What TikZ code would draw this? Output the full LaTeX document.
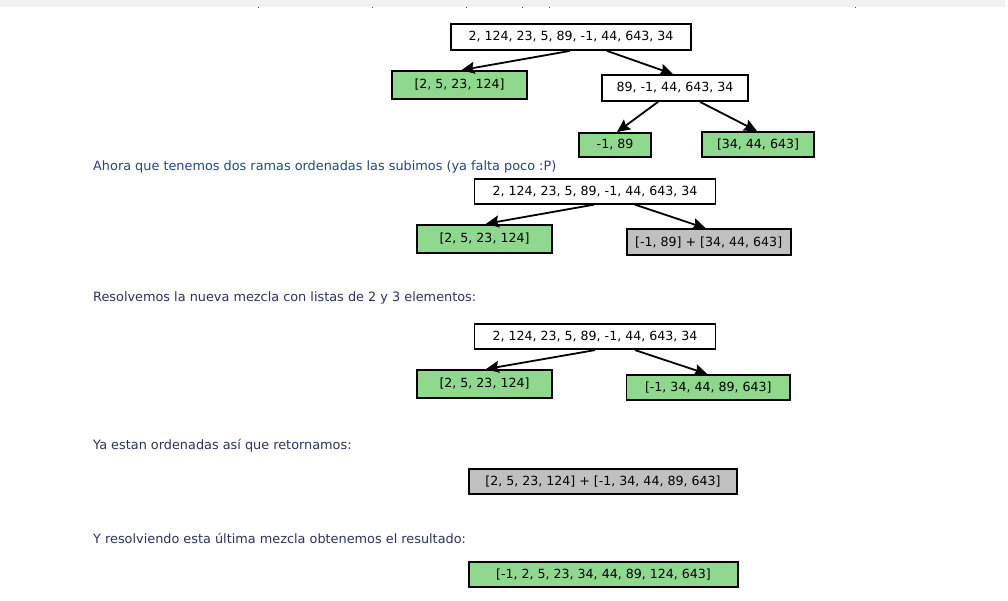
\documentclass[tikz,border=0pt]{standalone}
\usepackage{fontspec}
\setmainfont{DejaVu Sans}
\usetikzlibrary{arrows.meta,calc}
\definecolor{boxgreen}{RGB}{143,217,143}
\definecolor{boxgray}{RGB}{192,192,192}
\definecolor{strip}{RGB}{242,242,242}
\definecolor{txtblue}{RGB}{35,70,135}
\definecolor{txtnavy}{RGB}{45,50,100}
\tikzset{
  box/.style={draw=black, line width=1.8pt, rectangle, inner sep=0pt, align=center,
    font=\fontsize{12.6}{15}\selectfont},
  wbox/.style={box, fill=white},
  gbox/.style={box, fill=boxgreen},
  ybox/.style={box, fill=boxgray},
  arr/.style={line width=1.8pt, -{Stealth[length=13pt,width=12pt,inset=2pt]}},
  para/.style={anchor=west, inner sep=0pt, font=\fontsize{12.85}{15}\selectfont, text=txtnavy},
}
\begin{document}
\begin{tikzpicture}[x=1pt,y=-1pt]
\fill[white] (0,0) rectangle (1008,601);
\useasboundingbox (0,0) rectangle (1008,601);
\fill[strip] (0,0) rectangle (1005,7);
\foreach \tx in {258,372,466,522,549,855}
  \fill[txtblue] (\tx,7) rectangle ++(1.2,1.5);

% tree 1
\node[wbox, minimum width=240pt, minimum height=26pt] (r1) at (571,37) {2, 124, 23, 5, 89, -1, 44, 643, 34};
\node[gbox, minimum width=135pt, minimum height=28pt] (a1) at (459.5,85) {[2, 5, 23, 124]};
\node[wbox, minimum width=146pt, minimum height=26pt] (b1) at (675,88) {89, -1, 44, 643, 34};
\node[gbox, minimum width=72pt, minimum height=24pt] (c1) at (615,145) {-1, 89};
\node[gbox, minimum width=112pt, minimum height=25pt] (d1) at (758,144.5) {[34, 44, 643]};
\draw[arr] ([xshift=-1pt]r1.south) -- ([xshift=2pt]a1.north);
\draw[arr] ([xshift=36pt]r1.south) -- ([xshift=-2pt]b1.north);
\draw[arr] ([xshift=-17pt]b1.south) -- ([xshift=2pt]c1.north);
\draw[arr] ([xshift=25pt]b1.south) -- ([xshift=-1pt]d1.north);

\node[para, text=txtblue] (t1) at (93,167) {Ahora que tenemos dos ramas ordenadas las subimos (ya falta poco :P)};

% tree 2
\node[wbox, minimum width=241pt, minimum height=24.5pt] (r2) at (595,191.5) {2, 124, 23, 5, 89, -1, 44, 643, 34};
\node[gbox, minimum width=134.5pt, minimum height=28pt] (a2) at (484.5,238.7) {[2, 5, 23, 124]};
\node[ybox, minimum width=164pt, minimum height=26pt] (b2) at (708.7,242.2) {[-1, 89] + [34, 44, 643]};
\draw[arr] ([xshift=-1pt]r2.south) -- ([xshift=1.5pt]a2.north);
\draw[arr] ([xshift=40pt]r2.south) -- ([xshift=-3pt]b2.north);

\node[para] (t2) at (93,298) {Resolvemos la nueva mezcla con listas de 2 y 3 elementos:};

% tree 3
\node[wbox, minimum width=241pt, minimum height=25pt] (r3) at (595,336.7) {2, 124, 23, 5, 89, -1, 44, 643, 34};
\node[gbox, minimum width=135pt, minimum height=28pt] (a3) at (484.5,384) {[2, 5, 23, 124]};
\node[gbox, minimum width=163.5pt, minimum height=25pt] (b3) at (708.3,387.5) {[-1, 34, 44, 89, 643]};
\draw[arr] (r3.south) -- ([xshift=1.5pt]a3.north);
\draw[arr] ([xshift=40pt]r3.south) -- ([xshift=-1pt]b3.north);

\node[para] (t3) at (93,445.5) {Ya estan ordenadas así que retornamos:};
\node[ybox, minimum width=268pt, minimum height=25pt] (g) at (603,481.7) {[2, 5, 23, 124] + [-1, 34, 44, 89, 643]};

\node[para] (t4) at (93,538) {Y resolviendo esta última mezcla obtenemos el resultado:};
\node[gbox, minimum width=269pt, minimum height=25pt] (f) at (603.5,574.2) {[-1, 2, 5, 23, 34, 44, 89, 124, 643]};
\end{tikzpicture}
\end{document}
